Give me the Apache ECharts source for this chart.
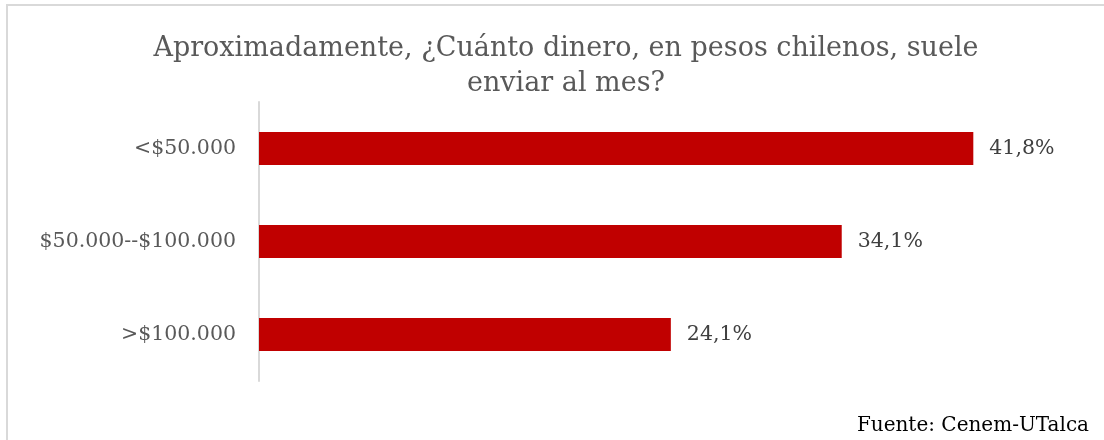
<!DOCTYPE html>
<html>
<head>
<meta charset="utf-8">
<style>
    html, body { margin: 0; padding: 0; background: #fff; }
    #chart { width: 1104px; height: 440px; }
</style>
<script src="https://cdn.jsdelivr.net/npm/echarts@6/dist/echarts.min.js"></script>
</head>
<body>
<div id="chart"></div>
<script>
    var categories = ['<$50.000', '$50.000--$100.000', '>$100.000'];
    var values = [41.8, 34.1, 24.1];
    var titleText = 'Aproximadamente, ¿Cuánto dinero, en pesos chilenos, suele\nenviar al mes?';
    var sourceText = 'Fuente: Cenem-UTalca';

    var serif = '"DejaVu Serif", "Liberation Serif", serif';

    var chart = echarts.init(document.getElementById('chart'));
    var option = {
        animation: false,
        backgroundColor: '#fff',
        title: {
            text: titleText,
            left: 561,
            top: 26,
            textAlign: 'center',
            textStyle: {
                fontFamily: serif,
                fontWeight: 'normal',
                fontSize: 27,
                lineHeight: 35,
                color: '#595959'
            }
        },
        graphic: [
            {
                type: 'rect',
                shape: {x: 7, y: 5, width: 1200, height: 600},
                style: {fill: null, stroke: '#d9d9d9', lineWidth: 2},
                silent: true
            },
            {
                type: 'text',
                right: 15,
                top: 416,
                style: {
                    text: sourceText,
                    fontFamily: serif,
                    fontSize: 20,
                    fill: '#000'
                }
            }
        ],
        grid: {
            left: 259,
            right: 76,
            top: 102,
            bottom: 59,
            containLabel: false
        },
        xAxis: {
            type: 'value',
            min: 0,
            max: 45,
            show: false
        },
        yAxis: {
            type: 'category',
            inverse: true,
            data: categories,
            axisTick: {show: false},
            axisLine: {show: true, lineStyle: {color: '#d9d9d9', width: 2}},
            axisLabel: {
                margin: 23,
                fontFamily: serif,
                fontSize: 20.5,
                color: '#595959'
            }
        },
        series: [
            {
                type: 'bar',
                data: values,
                barWidth: 33,
                itemStyle: {color: '#c00000'},
                label: {
                    show: true,
                    position: 'right',
                    distance: 16,
                    fontFamily: serif,
                    fontSize: 20.5,
                    color: '#404040',
                    formatter: function (p) {
                        return p.value.toFixed(1).replace('.', ',') + '%';
                    }
                }
            }
        ]
    };
    chart.setOption(option);
</script>
</body>
</html>
